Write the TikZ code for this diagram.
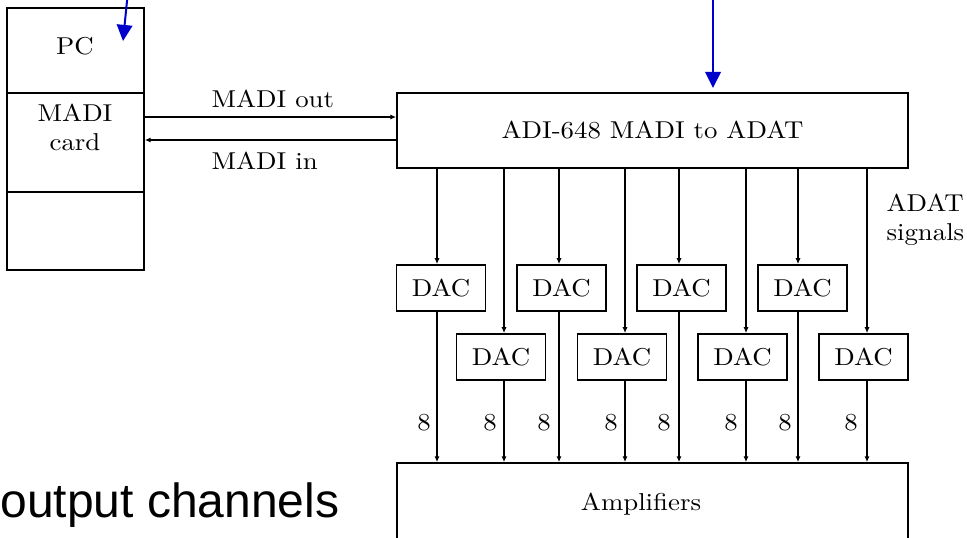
\documentclass[tikz,border=0pt]{standalone}
\usepackage{fontspec}
\newfontfamily\captionsans{Liberation Sans}
\usetikzlibrary{arrows.meta}
\definecolor{ptrblue}{RGB}{0,0,205}
% labels are set slightly flattened
\newcommand\sqz[1]{\scalebox{1}[0.91]{#1}}

\begin{document}
\begin{tikzpicture}[x=0.373pt, y=-0.373pt,
  box/.style={draw, line width=0.6pt, inner sep=0pt},
  dacbox/.style={box, minimum width=33.2pt, minimum height=17.2pt},
  lbl/.style={inner sep=0pt},
  sig/.style={line width=0.6pt, -{Latex[length=2.2pt,width=1.9pt]}},
  pointer/.style={draw=ptrblue, line width=0.75pt, -{Triangle[length=6pt,width=5.8pt]}}]

\useasboundingbox (0,0) rectangle (967,538);
\clip (0,0) rectangle (967,538);

% PC column
\node[box, minimum width=51.1pt, minimum height=31.7pt] (pc) at (75.5,50.5) {};
\node[box, minimum width=51.1pt, minimum height=36.9pt] (card) at (75.5,142.5) {};
\node[box, minimum width=51.1pt, minimum height=29.1pt] (spare) at (75.5,231) {};
\node[lbl] (pclabel) at (75,46) {\sqz{PC}};
\node[lbl] (cardlabel) at (75,130) {\sqz{\begin{tabular}{@{}c@{}}MADI\\card\end{tabular}}};

% converter
\node[box, minimum width=190.6pt, minimum height=28pt] (adi) at (652.5,130.5) {\sqz{ADI-648 MADI to ADAT}};

% MADI links
\coordinate (yout) at (0,117);
\coordinate (yin) at (0,140);
\draw[sig] (card.east |- yout) -- (adi.west |- yout);
\draw[sig] (adi.west |- yin) -- (card.east |- yin);
\node[lbl, anchor=west] (outlabel) at (211,98.5) {\sqz{MADI out}};
\node[lbl, anchor=west] (inlabel) at (211,160.5) {\sqz{MADI in}};

% DACs
\node[dacbox] (dacA) at (441,288) {\sqz{DAC}};
\node[dacbox] (dacC) at (561.5,288) {\sqz{DAC}};
\node[dacbox] (dacE) at (681.5,288) {\sqz{DAC}};
\node[dacbox] (dacG) at (802.5,288) {\sqz{DAC}};
\node[dacbox] (dacB) at (501,357) {\sqz{DAC}};
\node[dacbox] (dacD) at (622,357) {\sqz{DAC}};
\node[dacbox] (dacF) at (742.5,357) {\sqz{DAC}};
\node[dacbox] (dacH) at (863.5,357) {\sqz{DAC}};

% amplifier rack
\node[box, minimum width=190.6pt, minimum height=37.3pt] (amp) at (652.5,513) {};
\node[lbl] (amplabel) at (641,504) {\sqz{Amplifiers}};

% ADAT lines
\coordinate (xa) at (437,0);
\coordinate (xb) at (504,0);
\coordinate (xc) at (559,0);
\coordinate (xd) at (625,0);
\coordinate (xe) at (679,0);
\coordinate (xf) at (746,0);
\coordinate (xg) at (798,0);
\coordinate (xh) at (867,0);
\foreach \d/\c in {dacA/xa, dacB/xb, dacC/xc, dacD/xd, dacE/xe, dacF/xf, dacG/xg, dacH/xh}{
  \draw[sig] (adi.south -| \c) -- (\d.north -| \c);
  \draw[sig] (\d.south -| \c) -- (amp.north -| \c);
}
\foreach \x [count=\i] in {424,490,544,611,664,731,785,851}
  \node[lbl] (eight\i) at (\x,423) {\sqz{8}};

\node[lbl, anchor=west] (adatlabel) at (886,220) {\sqz{\begin{tabular}{@{}l@{}}ADAT\\signals\end{tabular}}};

% side caption
\node[lbl, anchor=base west, font=\captionsans\fontsize{17.9pt}{21pt}\selectfont] (chanlabel) at (0,517) {output channels};

% pointers
\coordinate (ptrAstart) at (127.3,-2);
\coordinate (ptrAend) at (123,41);
\coordinate (ptrBstart) at (713,-2);
\coordinate (ptrBend) at (713,88);
\draw[pointer] (ptrAstart) -- (ptrAend);
\draw[pointer] (ptrBstart) -- (ptrBend);
\end{tikzpicture}
\end{document}
